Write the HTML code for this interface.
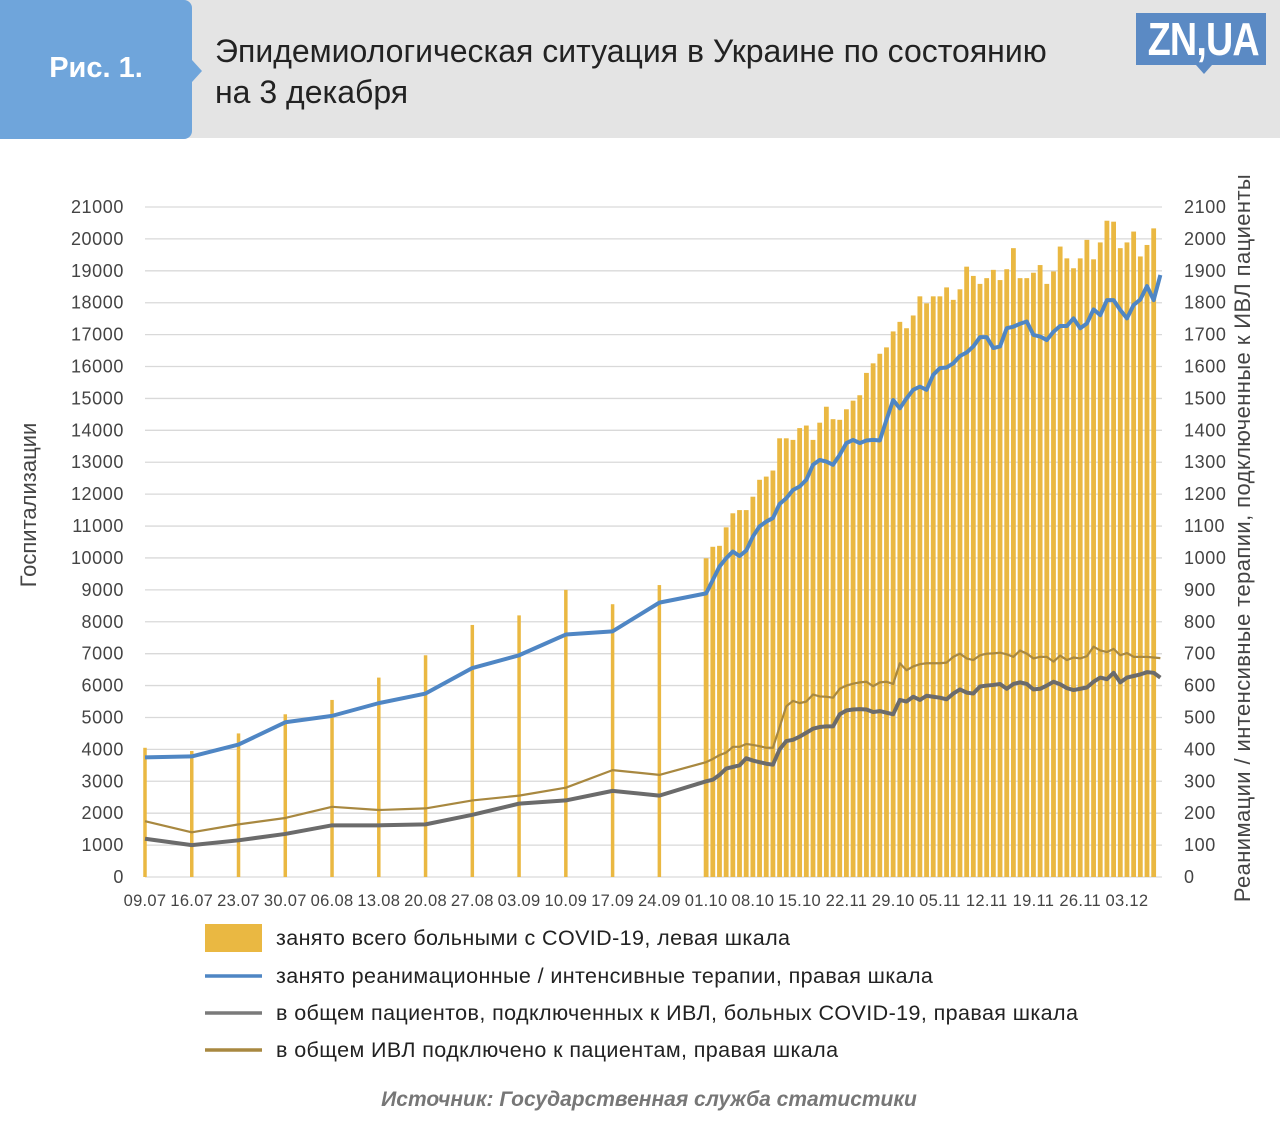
<!DOCTYPE html>
<html><head><meta charset="utf-8">
<style>
body{margin:0;width:1280px;height:1137px;background:#fff;overflow:hidden;font-family:"Liberation Sans","DejaVu Sans",sans-serif;}
#header{position:absolute;left:0;top:0;width:1280px;height:138px;background:#e4e4e4;}
#fig-box{position:absolute;left:0;top:0;width:192px;height:139px;background:#6fa5db;border-radius:0 8px 8px 0;}
#fig-box:after{content:"";position:absolute;left:192px;top:60px;border-left:10px solid #6fa5db;border-top:11px solid transparent;border-bottom:11px solid transparent;}
#fig-label{position:absolute;left:0;width:192px;top:52px;text-align:center;color:#fff;font-weight:bold;font-size:29px;}
#title{position:absolute;left:215px;top:31px;font-size:32px;line-height:41px;color:#222;}
#logo{position:absolute;left:1136px;top:13px;width:130px;height:52px;background:#5b8ac4;}
#logo span{position:absolute;left:0;top:0;width:130px;color:#fff;font-weight:bold;font-size:46px;line-height:52px;text-align:center;transform:scaleX(0.82);letter-spacing:-1px;}
#logo:after{content:"";position:absolute;left:60px;top:52px;border-top:9px solid #5b8ac4;border-left:8px solid transparent;border-right:8px solid transparent;}
#source{position:absolute;left:0;width:1298px;top:1088px;text-align:center;color:#777;font-weight:bold;font-style:italic;font-size:21px;}
svg{position:absolute;left:0;top:0;}
</style></head><body>
<div id="header"></div>
<div id="fig-box"><div id="fig-label">Рис. 1.</div></div>
<div id="title">Эпидемиологическая ситуация в Украине по состоянию<br>на 3 декабря</div>
<div id="logo"><span>ZN,UA</span></div>
<svg id="chart" width="1280" height="1137"></svg>
<div id="source">Источник: Государственная служба статистики</div>
<script>
// weekly data (days from 09.07)
const weeklyDays=[0,7,14,21,28,35,42,49,56,63,70,77];
const weeklyBars=[4050,3950,4500,5100,5550,6250,6950,7900,8200,9000,8550,9150];
const weeklyIcu=[375,378,415,485,505,545,575,655,695,760,770,860];
const weeklyVent=[120,100,115,135,162,162,165,195,230,240,270,255];
const weeklyVentAll=[175,140,165,185,220,210,215,240,255,280,335,320];
// daily data from 01.10 (day 84)
const dailyStart=84;
const dailyBars=[9990,10350,10380,10960,11400,11500,11500,11920,12450,12550,12740,13750,13750,13700,14070,14150,13700,14240,14740,14350,14330,14660,14930,15100,
15800,16100,16400,16600,17100,17400,17200,17600,18200,
17980,18200,18200,18480,18090,18420,19130,18840,18590,18770,19030,18710,19050,19710,18770,18770,18940,19180,18590,18980,19760,19390,19080,19390,19970,19360,19890,20570,20540,19710,19890,20230,19450,19810,20330];
const dailyIcu=[889,931,973,999,1020,1006,1023,1067,1099,1114,1125,1169,1187,1213,1224,1245,1292,1307,1302,1292,1323,1360,1370,1360,1368,1370,1368,1433,1495,1469,1500,1527,1537,1527,
1574,1595,1597,1610,1633,1644,1663,1692,1692,1658,1663,1720,1725,1734,1741,1699,1694,1683,1709,1727,1727,1751,1720,1735,1779,1761,1808,1808,1777,1751,1793,1810,1852,1808,1887];
const dailyVent=[300,305,320,340,345,350,372,365,360,355,352,400,426,430,440,452,465,470,472,472,510,522,525,526,525,517,520,515,510,555,550,565,555,568,
565,562,557,575,588,578,575,597,600,602,605,590,605,610,605,588,590,600,612,604,592,586,590,594,612,625,620,640,610,625,630,635,642,640,625];
const dailyVentAll=[360,370,382,390,408,408,417,414,410,405,405,470,535,552,545,550,572,566,565,562,590,600,606,610,612,598,610,612,605,670,648,660,667,670,
670,670,672,690,700,685,680,695,700,701,703,698,690,710,700,685,690,690,675,694,680,688,685,692,722,710,705,715,695,702,690,690,690,688,686];
const xTickLabels=["09.07","16.07","23.07","30.07","06.08","13.08","20.08","27.08","03.09","10.09","17.09","24.09","01.10","08.10","15.10","22.11","29.10","05.11","12.11","19.11","26.11","03.12"];
const xTickDays=[0,7,14,21,28,35,42,49,56,63,70,77,84,91,98,105,112,119,126,133,140,147];
const leftTicks=[0,1000,2000,3000,4000,5000,6000,7000,8000,9000,10000,11000,12000,13000,14000,15000,16000,17000,18000,19000,20000,21000];

const NS="http://www.w3.org/2000/svg";
const svg=document.getElementById('chart');
const X0=145,PXD=6.68,Y0=877,YT=207;
const x=d=>X0+d*PXD;
const yL=v=>Y0-v/21000*(Y0-YT);
const yR=v=>Y0-v/2100*(Y0-YT);
function el(tag,attrs,parent){const e=document.createElementNS(NS,tag);for(const k in attrs)e.setAttribute(k,attrs[k]);(parent||svg).appendChild(e);return e;}

leftTicks.forEach((v,i)=>{
  const g=el('line',{x1:X0,x2:1162,y1:yL(v),y2:yL(v),stroke:'#d9d9d9','stroke-width':1.3});
  
  
  const t=el('text',{x:124,y:yL(v)+6,'text-anchor':'end','font-size':18,'letter-spacing':0.6,fill:'#444'});
  t.textContent=v;
  
  
  const r=el('text',{x:1184,y:yL(v)+6,'text-anchor':'start','font-size':18,'letter-spacing':0.6,fill:'#444'});
  r.textContent=v/10;
  
  
});
xTickLabels.forEach((s,i)=>{
  const t=el('text',{x:x(xTickDays[i]),y:906,'text-anchor':'middle','font-size':16.5,'letter-spacing':0.3,fill:'#444'});
  t.textContent=s;
  
  
});
function bar(d,v,w){
  const b=el('rect',{x:x(d)-w/2,y:yL(v),width:w,height:Y0-yL(v),fill:'#eab842'});
  
  
}
weeklyDays.forEach((d,i)=>bar(d,weeklyBars[i],3.5));
dailyBars.forEach((v,i)=>bar(dailyStart+i,v,4.8));
function series(wk,dl,color,width,name){
  const pts=[];
  wk.forEach((v,i)=>pts.push([x(weeklyDays[i]),yR(v)]));
  dl.forEach((v,i)=>pts.push([x(dailyStart+i),yR(v)]));
  const p=el('polyline',{points:pts.map(p=>p.join(',')).join(' '),fill:'none',stroke:color,'stroke-width':width,'stroke-linejoin':'round'});
  
  
}
series(weeklyVentAll,dailyVentAll,'#a88840',2.2,'line-ventilated-total');
series(weeklyVent,dailyVent,'#6b6b6b',4,'line-ventilated-covid');
series(weeklyIcu,dailyIcu,'#4f86c4',4,'line-icu');
const lt=el('text',{x:0,y:0,transform:'translate(36,505) rotate(-90)','text-anchor':'middle','font-size':22,fill:'#444'});
lt.textContent='Госпитализации';


const rt=el('text',{x:0,y:0,transform:'translate(1250,538) rotate(-90)','text-anchor':'middle','font-size':22,'letter-spacing':0.4,fill:'#444'});
rt.textContent='Реанимации / интенсивные терапии, подключенные к ИВЛ пациенты';


const leg=[['rect','#eab842','занято всего больными с COVID-19, левая шкала',938],
['line','#4f86c4','занято реанимационные / интенсивные терапии, правая шкала',976],
['line','#7a7a7a','в общем пациентов, подключенных к ИВЛ, больных COVID-19, правая шкала',1013],
['line','#a88840','в общем ИВЛ подключено к пациентам, правая шкала',1050]];
leg.forEach(l=>{
  const g=el('g',{});
  
  
  if(l[0]==='rect')el('rect',{x:205,y:l[3]-14,width:57,height:28,fill:l[1]},g);
  else el('line',{x1:205,x2:262,y1:l[3],y2:l[3],stroke:l[1],'stroke-width':3.5},g);
  const t=el('text',{x:276,y:l[3]+7,'font-size':21.5,'letter-spacing':0.4,fill:'#222'},g);
  t.textContent=l[2];
});
</script>
</body></html>
